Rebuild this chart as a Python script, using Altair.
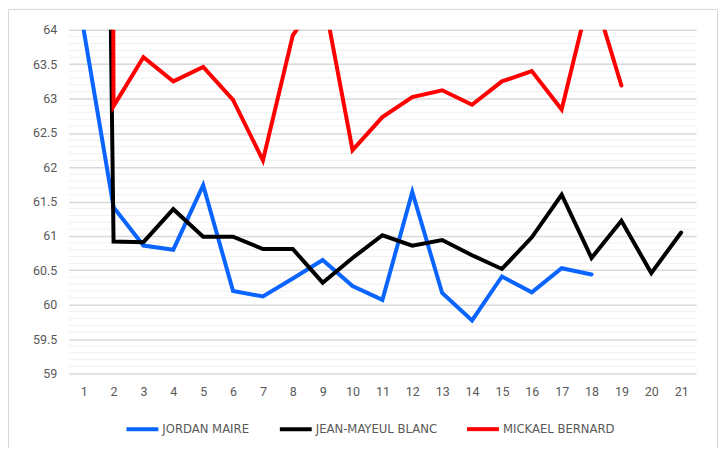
import altair as alt
import pandas as pd

laps = list(range(1, 22))
series_names = ["JORDAN MAIRE", "JEAN-MAYEUL BLANC", "MICKAEL BERNARD"]
series_colors = ["#0a64ff", "#000000", "#ff0000"]

jordan = [64.0, 61.42, 60.86, 60.80, 61.74, 60.20, 60.12, 60.38, 60.65, 60.27,
          60.07, 61.64, 60.17, 59.77, 60.41, 60.18, 60.53, 60.44, None, None, None]
jean = [95.0, 60.92, 60.91, 61.39, 60.99, 60.99, 60.81, 60.81, 60.32, 60.68,
        61.01, 60.86, 60.94, 60.72, 60.52, 60.98, 61.60, 60.68, 61.22, 60.46, 61.05]
mickael = [200.0, 62.89, 63.60, 63.25, 63.46, 62.98, 62.10, 63.92, 64.55, 62.25,
           62.73, 63.02, 63.12, 62.91, 63.25, 63.40, 62.84, 64.62, 63.19, None, None]

major_ticks = [59, 59.5, 60, 60.5, 61, 61.5, 62, 62.5, 63, 63.5, 64]
minor_ticks = [59.1, 59.2, 59.3, 59.4, 59.6, 59.7, 59.8, 59.9,
               60.1, 60.2, 60.3, 60.4, 60.6, 60.7, 60.8, 60.9,
               61.1, 61.2, 61.3, 61.4, 61.6, 61.7, 61.8, 61.9,
               62.1, 62.2, 62.3, 62.4, 62.6, 62.7, 62.8, 62.9,
               63.1, 63.2, 63.3, 63.4, 63.6, 63.7, 63.8, 63.9]

rows = []
for name, vals in zip(series_names, [jordan, jean, mickael]):
    for lap, v in zip(laps, vals):
        if v is not None:
            rows.append({"lap": lap, "name": name, "value": v})
df = pd.DataFrame(rows)

FONT = "Roboto"
GRAY = "#595959"

yscale = alt.Scale(domain=[59, 64], nice=False, zero=False)
xscale = alt.Scale(type="point", padding=0.5, domain=laps)

yaxis = alt.Axis(values=major_ticks, format="~g", domain=False, ticks=False, tickSize=0,
                 grid=True, gridColor="#d9d9d9", gridWidth=1.5,
                 labelPadding=12, labelFont=FONT, labelFontSize=12.5, labelColor=GRAY)

frame = alt.Chart(pd.DataFrame({"a": [0]})).mark_rect(
    fillOpacity=0, stroke="#d9d9d9", strokeWidth=1, clip=False
).encode(
    x=alt.value(-60.5), x2=alt.value(651.5), y=alt.value(-20.5), y2=alt.value(480)
)

minor = alt.Chart(pd.DataFrame({"v": minor_ticks})).mark_rule(
    color="#f0f0f0", strokeWidth=1
).encode(y=alt.Y("v:Q", scale=yscale, title=None, axis=yaxis))

color = alt.Color(
    "name:N",
    scale=alt.Scale(domain=series_names, range=series_colors),
    legend=alt.Legend(
        title=None, orient="none", legendX=56, legendY=383,
        direction="horizontal", symbolType="stroke", symbolSize=1024,
        symbolStrokeWidth=4, labelFont="Liberation Sans Narrow, DejaVu Sans Condensed, sans-serif",
        labelFontSize=13, labelColor=GRAY, labelOffset=2, columnPadding=22,
        labelLimit=0,
    ),
)

base = alt.Chart(df).mark_line(strokeWidth=4, clip=True, strokeCap="round", strokeJoin="miter").encode(
    x=alt.X("lap:O", scale=xscale, title=None,
            axis=alt.Axis(labelAngle=0, domain=False, ticks=False, tickSize=0, grid=False,
                          labelPadding=12, labelFont=FONT, labelFontSize=12.5, labelColor=GRAY)),
    y=alt.Y("value:Q", scale=yscale, title=None, axis=yaxis),
    color=color,
)

layers = [frame, minor]
for name in series_names:
    layers.append(base.transform_filter(alt.datum.name == name))

chart = alt.layer(*layers).properties(
    width=630, height=345,
    autosize=alt.AutoSizeParams(type="none"),
    padding={"left": 61, "top": 21, "right": 22, "bottom": 74},
).configure_view(stroke=None)

chart.save("out.html", embed_options={"renderer": "svg", "actions": False})
